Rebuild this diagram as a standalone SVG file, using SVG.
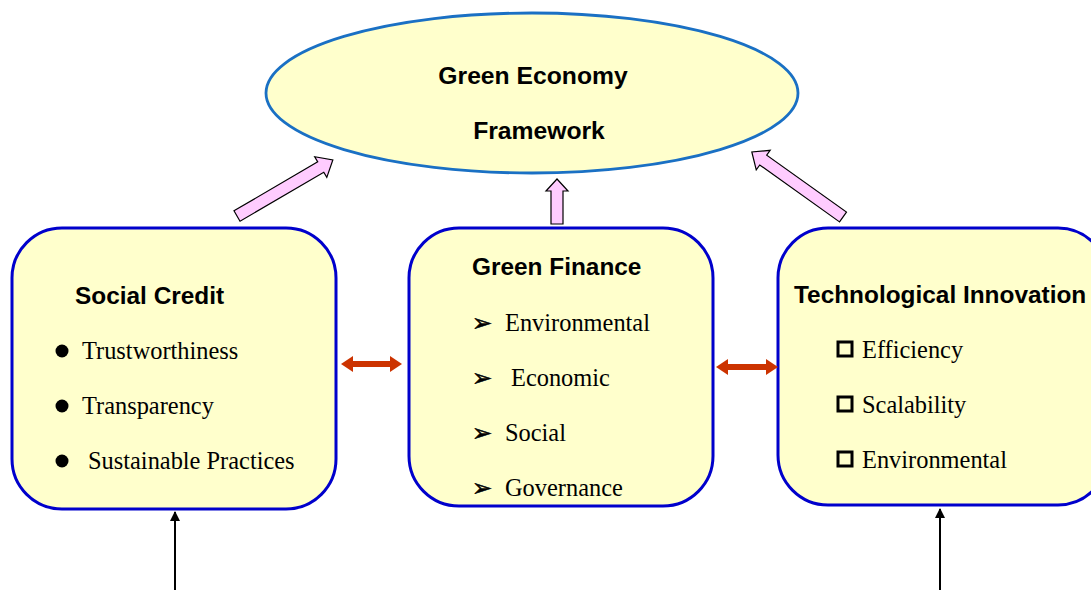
<svg xmlns="http://www.w3.org/2000/svg" width="1091" height="590" viewBox="0 0 1091 590">
  <style>
    .box { fill: #ffffcc; stroke: #0000cc; stroke-width: 3; }
    .title { font-family: "Liberation Sans", Arial, sans-serif; font-weight: bold; font-size: 24.4px; fill: #000; }
    .head { font-family: "Liberation Sans", Arial, sans-serif; font-weight: bold; font-size: 24.7px; fill: #000; }
    .item { font-family: "Liberation Serif", "Times New Roman", serif; font-size: 24.4px; fill: #000; }
    .tri { font-family: "DejaVu Sans", sans-serif; font-size: 24px; fill: #000; stroke: #000; stroke-width: 0.6; }
    .pink { fill: #ffccff; stroke: #000; stroke-width: 1.2; stroke-linejoin: miter; }
    .red { fill: #cc3300; }
    .sq { fill: none; stroke: #000; stroke-width: 3; }
  </style>
  <defs>
    <marker id="blackHead" viewBox="0 0 10 10" refX="9" refY="5" markerWidth="5" markerHeight="5" orient="auto">
      <path d="M0,0 L10,5 L0,10 Z" fill="#000"/>
    </marker>
  </defs>
  <rect width="1091" height="590" fill="#fff"/>

  <g id="green-economy-framework">
    <ellipse cx="532" cy="93" rx="266" ry="80" fill="#ffffcc" stroke="#1a70c4" stroke-width="2.8"/>
    <text class="head" x="533" y="84" text-anchor="middle">Green Economy</text>
    <text class="head" x="539" y="139" text-anchor="middle">Framework</text>
  </g>

  <g id="social-credit">
    <rect class="box" x="12" y="228" width="324" height="281" rx="50" ry="50"/>
    <text class="title" x="75" y="304">Social Credit</text>
    <circle cx="62" cy="351" r="6.5"/>
    <text class="item" x="82" y="359">Trustworthiness</text>
    <circle cx="62" cy="406" r="6.5"/>
    <text class="item" x="82" y="414">Transparency</text>
    <circle cx="62" cy="461" r="6.5"/>
    <text class="item" x="88" y="469">Sustainable Practices</text>
  </g>

  <g id="green-finance">
    <rect class="box" x="409" y="228" width="304" height="278" rx="50" ry="50"/>
    <text class="title" x="472" y="275">Green Finance</text>
    <text class="tri" x="472" y="331">➢</text>
    <text class="item" x="505" y="331">Environmental</text>
    <text class="tri" x="472" y="386">➢</text>
    <text class="item" x="511" y="386">Economic</text>
    <text class="tri" x="472" y="441">➢</text>
    <text class="item" x="505" y="441">Social</text>
    <text class="tri" x="472" y="496">➢</text>
    <text class="item" x="505" y="496">Governance</text>
  </g>

  <g id="technological-innovation">
    <rect class="box" x="778" y="228" width="330" height="277" rx="50" ry="50"/>
    <text class="title" x="794" y="303">Technological Innovation</text>
    <rect class="sq" x="838" y="342" width="14" height="14"/>
    <text class="item" x="862" y="358">Efficiency</text>
    <rect class="sq" x="838" y="397" width="14" height="14"/>
    <text class="item" x="862" y="413">Scalability</text>
    <rect class="sq" x="838" y="452" width="14" height="14"/>
    <text class="item" x="862" y="468">Environmental</text>
  </g>

  <g id="connectors">
    <!-- block arrows toward the framework -->
    <path class="pink" transform="translate(237,216) rotate(-30.3)" d="M0,-6 L97,-6 L97,-12 L111,0 L97,12 L97,6 L0,6 Z"/>
    <path class="pink" transform="translate(557,224) rotate(-90)" d="M0,-6 L33,-6 L33,-11 L45,0 L33,11 L33,6 L0,6 Z"/>
    <path class="pink" transform="translate(843,217) rotate(-144.5)" d="M0,-6 L98,-6 L98,-12 L112,0 L98,12 L98,6 L0,6 Z"/>
    <!-- two-way links between boxes -->
    <path class="red" d="M341,364 L353,356 L353,361 L390,361 L390,356 L402,364 L390,372 L390,367 L353,367 L353,372 Z"/>
    <path class="red" d="M716,367 L728,359 L728,364 L766,364 L766,359 L778,367 L766,375 L766,370 L728,370 L728,375 Z"/>
    <!-- incoming lines from below -->
    <line x1="175" y1="590" x2="175" y2="512" stroke="#000" stroke-width="2" marker-end="url(#blackHead)"/>
    <line x1="940" y1="590" x2="940" y2="509" stroke="#000" stroke-width="2" marker-end="url(#blackHead)"/>
  </g>
</svg>
